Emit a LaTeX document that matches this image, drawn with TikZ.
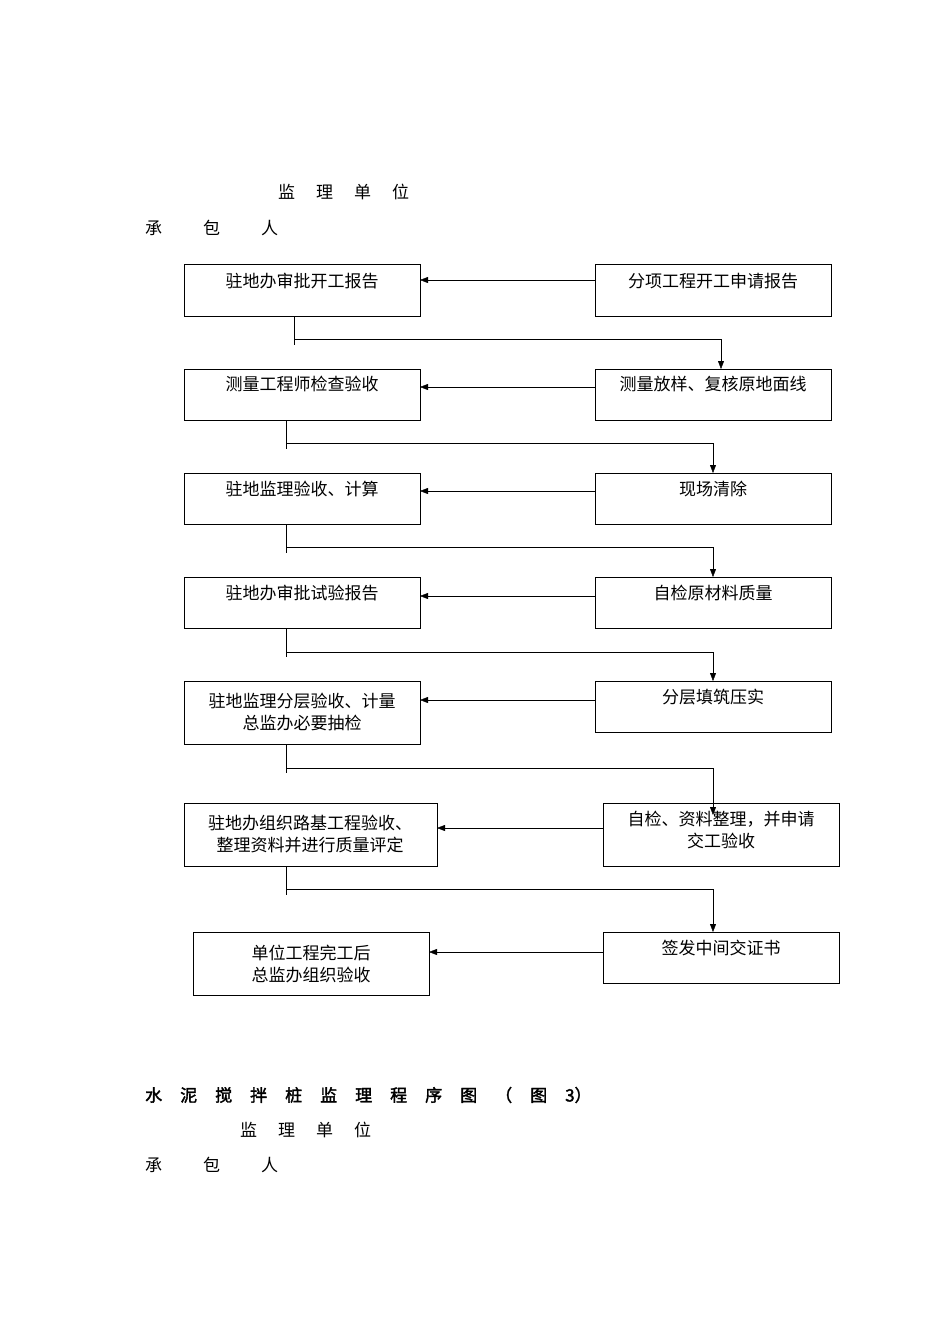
\documentclass[tikz,border=0pt]{standalone}
\usepackage{fontspec}
\setmainfont{Noto Sans CJK SC}
\newfontfamily\cjkb{Noto Sans CJK SC}[FakeBold=2]
\usetikzlibrary{arrows.meta}
\tikzset{x=1pt,y=-1pt,
 lbl/.style={font=\fontsize{17}{22}\selectfont,align=center,inner sep=0pt},
 arr/.style={-{Triangle[length=8pt,width=6pt]},thin},
 ln/.style={thin}}
\newcommand{\ga}{\hspace{21pt}}
\newcommand{\gb}{\hspace{41pt}}
\newcommand{\gc}{\hspace{18pt}}
\begin{document}
\begin{tikzpicture}
\useasboundingbox (0,0) rectangle (950,1344);
\fill[white] (0,0) rectangle (950,1344);
\node[lbl,anchor=west] (h1) at (278,192) {监\ga 理\ga 单\ga 位};
\node[lbl,anchor=west] (h2) at (145,228) {承\gb 包\gb 人};
% left column
\draw[thick] (184,264) rectangle (420,316); \node[lbl] (L1) at (302,281) {驻地办审批开工报告};
\draw[thick] (184,369) rectangle (420,420); \node[lbl] (L2) at (302,384) {测量工程师检查验收};
\draw[thick] (184,473) rectangle (420,524); \node[lbl] (L3) at (302,489) {驻地监理验收、计算};
\draw[thick] (184,577) rectangle (420,628); \node[lbl] (L4) at (302,593) {驻地办审批试验报告};
\draw[thick] (184,681) rectangle (420,744); \node[lbl] (L5) at (302,712) {驻地监理分层验收、计量\\总监办必要抽检};
\draw[thick] (184,803) rectangle (437,866); \node[lbl] (L6) at (310,834) {驻地办组织路基工程验收、\\整理资料并进行质量评定};
\draw[thick] (193,932) rectangle (429,995); \node[lbl] (L7) at (311,964) {单位工程完工后\\总监办组织验收};
% right column
\draw[thick] (595,264) rectangle (831,316); \node[lbl] (R1) at (713,281) {分项工程开工申请报告};
\draw[thick] (595,369) rectangle (831,420); \node[lbl] (R2) at (713,384) {测量放样、复核原地面线};
\draw[thick] (595,473) rectangle (831,524); \node[lbl] (R3) at (713,489) {现场清除};
\draw[thick] (595,577) rectangle (831,628); \node[lbl] (R4) at (713,593) {自检原材料质量};
\draw[thick] (595,681) rectangle (831,732); \node[lbl] (R5) at (713,697) {分层填筑压实};
\draw[thick] (603,803) rectangle (839,866); \node[lbl] (R6) at (721,830) {自检、资料整理，并申请\\交工验收};
\draw[thick] (603,932) rectangle (839,983); \node[lbl] (R7) at (721,948) {签发中间交证书};
% horizontal arrows
\coordinate (a1s) at (595,280); \coordinate (a1e) at (420,280); \draw[arr] (a1s) -- (a1e);
\coordinate (a2s) at (595,387); \coordinate (a2e) at (420,387); \draw[arr] (a2s) -- (a2e);
\coordinate (a3s) at (595,491); \coordinate (a3e) at (420,491); \draw[arr] (a3s) -- (a3e);
\coordinate (a4s) at (595,596); \coordinate (a4e) at (420,596); \draw[arr] (a4s) -- (a4e);
\coordinate (a5s) at (595,700); \coordinate (a5e) at (420,700); \draw[arr] (a5s) -- (a5e);
\coordinate (a6s) at (603,828); \coordinate (a6e) at (437,828); \draw[arr] (a6s) -- (a6e);
\coordinate (a7s) at (603,952); \coordinate (a7e) at (429,952); \draw[arr] (a7s) -- (a7e);
% down connectors
\coordinate (c1a) at (294,316); \coordinate (c1b) at (294,345); \coordinate (c1c) at (294,339); \coordinate (c1d) at (721,339); \coordinate (c1e) at (721,369);
\draw[ln] (c1a) -- (c1b); \draw[arr] (c1c) -- (c1d) -- (c1e);
\foreach \n/\ya/\yh/\yb in {2/420/443/473, 3/524/547/577, 4/628/652/681, 5/744/768/815, 6/866/889/932}{
 \coordinate (d\n a) at (286,\ya); \coordinate (d\n b) at (286,\ya+29); \coordinate (d\n c) at (286,\yh); \coordinate (d\n d) at (713,\yh); \coordinate (d\n e) at (713,\yb);
 \draw[ln] (d\n a) -- (d\n b); \draw[arr] (d\n c) -- (d\n d) -- (d\n e);}
% bottom
\node[lbl,anchor=west] (t1) at (145,1095) {\cjkb 水\gc 泥\gc 搅\gc 拌\gc 桩\gc 监\gc 理\gc 程\gc 序\gc 图\gc （\gc 图\gc 3）};
\node[lbl,anchor=west] (h3) at (240,1130) {监\ga 理\ga 单\ga 位};
\node[lbl,anchor=west] (h4) at (145,1165) {承\gb 包\gb 人};
\end{tikzpicture}
\end{document}
